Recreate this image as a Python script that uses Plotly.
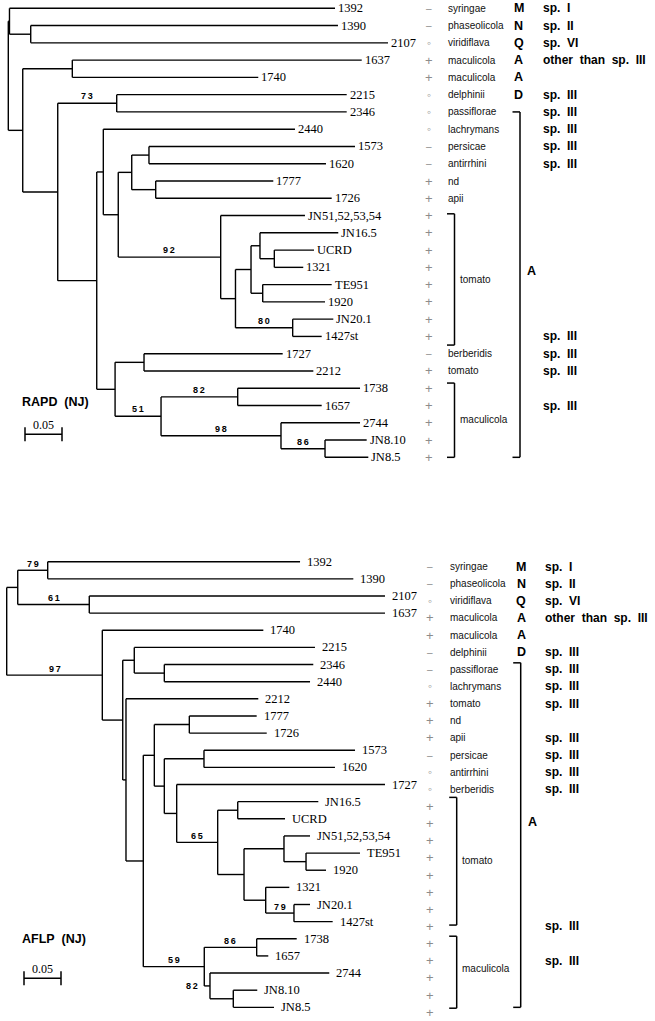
import plotly.graph_objects as go

W, H = 655, 1021
PX_PER_UNIT = 740.0          # 0.05 distance units = 37 px
SCALE_LEN = 0.05

# ---------------- RAPD (NJ) tree ----------------
rapd_leaves = ["1392", "1390", "2107", "1637", "1740", "2215", "2346", "2440",
               "1573", "1620", "1777", "1726", "JN51,52,53,54", "JN16.5", "UCRD",
               "1321", "TE951", "1920", "JN20.1", "1427st", "1727", "2212",
               "1738", "1657", "2744", "JN8.10", "JN8.5"]
rapd_tip_depth = [0.4415, 0.4455, 0.5131, 0.4776, 0.3378, 0.4573, 0.4573, 0.3874,
                  0.4685, 0.4293, 0.3581, 0.4370, 0.4009, 0.4459, 0.4131,
                  0.3986, 0.4370, 0.4280, 0.4392, 0.4235, 0.3708, 0.4122,
                  0.4753, 0.4235, 0.4753, 0.4843, 0.4865]
rapd_node_id = ["root", "nA", "nA2", "nB", "nB1", "nC", "n73", "nD", "nE", "nF",
                "nG", "nG1", "nG2", "nH", "nI", "nJ", "nK", "nK2", "nJ2", "nI2",
                "nL", "nL1", "nM", "nM1", "nN", "nN2"]
rapd_node_depth = [0.0, 0.0016, 0.0303, 0.0195, 0.0865, 0.0668, 0.1465, 0.1195,
                   0.1284, 0.1486, 0.1668, 0.1901, 0.1992, 0.2870, 0.3070, 0.3280,
                   0.3401, 0.3595, 0.3438, 0.3843, 0.1443, 0.1834, 0.2064, 0.3100,
                   0.3685, 0.4280]
rapd_node_children = [["nA", "nB"], ["1392", "nA2"], ["1390", "2107"], ["nB1", "nC"],
                      ["1637", "1740"], ["n73", "nD"], ["2215", "2346"], ["nE", "nL"],
                      ["2440", "nF"], ["nG", "nH"], ["nG1", "nG2"], ["1573", "1620"],
                      ["1777", "1726"], ["JN51,52,53,54", "nI"], ["nJ", "nI2"],
                      ["nK", "nJ2"], ["JN16.5", "nK2"], ["UCRD", "1321"],
                      ["TE951", "1920"], ["JN20.1", "1427st"], ["nL1", "nM"],
                      ["1727", "2212"], ["nM1", "nN"], ["1738", "1657"],
                      ["2744", "nN2"], ["JN8.10", "JN8.5"]]
rapd_node_boot = [None, None, None, None, None, None, 73, None, None, None,
                  None, None, None, 92, None, None, None, None, None, 80,
                  None, None, 51, 82, 98, 86]
rapd_reaction = ["-", "-", "o", "+", "+", "o", "o", "o", "-", "-", "+", "+",
                 "+", "+", "+", "+", "+", "+", "+", "+", "-", "+",
                 "+", "+", "+", "+", "+"]
rapd_pathovar = ["syringae", "phaseolicola", "viridiflava", "maculicola", "maculicola",
                 "delphinii", "passiflorae", "lachrymans", "persicae", "antirrhini",
                 "nd", "apii", "", "", "", "", "", "", "", "", "berberidis", "tomato",
                 "", "", "", "", ""]
rapd_species = ["sp. I", "sp. II", "sp. VI", "other than sp. III", "", "sp. III",
                "sp. III", "sp. III", "sp. III", "sp. III", "", "", "", "", "", "",
                "", "", "", "sp. III", "sp. III", "sp. III", "", "sp. III", "", "", ""]
rapd_brackets = [("tomato", 11.9, 19.5, 15.7), ("maculicola", 21.7, 26.0, 23.8)]
rapd_big_bracket = ("A", 6.0, 26.0, 15.2)

# ---------------- AFLP (NJ) tree ----------------
aflp_leaves = ["1392", "1390", "2107", "1637", "1740", "2215", "2346", "2440",
               "2212", "1777", "1726", "1573", "1620", "1727", "JN16.5", "UCRD",
               "JN51,52,53,54", "TE951", "1920", "1321", "JN20.1", "1427st",
               "1738", "1657", "2744", "JN8.10", "JN8.5"]
aflp_tip_depth = [0.3964, 0.4684, 0.5112, 0.5112, 0.3468, 0.4166, 0.4143, 0.4099,
                  0.3400, 0.3378, 0.3514, 0.4707, 0.4436, 0.5112, 0.4211, 0.3761,
                  0.4099, 0.4774, 0.4315, 0.3819, 0.4099, 0.4405,
                  0.3919, 0.3535, 0.4359, 0.3386, 0.3612]
aflp_node_id = ["root", "nP", "nP1", "nP2", "nQ", "nR", "nS", "nS2", "nT", "nU",
                "nV", "nV1", "nW", "nW1", "nX", "nY", "nY1", "nZ", "nZ1", "nZ1b",
                "nZ2", "nZ2b", "nAA", "nAA1", "nBB", "nBB1"]
aflp_node_depth = [0.0, 0.0149, 0.0554, 0.1116, 0.1292, 0.1568, 0.1724, 0.2130,
                   0.1612, 0.1846, 0.1995, 0.2468, 0.2130, 0.2666, 0.2297, 0.2851,
                   0.3122, 0.3207, 0.3747, 0.4045, 0.3500, 0.3882, 0.2670, 0.3378,
                   0.2747, 0.3062]
aflp_node_children = [["nP", "nQ"], ["nP1", "nP2"], ["1392", "1390"], ["2107", "1637"],
                      ["1740", "nR"], ["nS", "nT"], ["2215", "nS2"], ["2346", "2440"],
                      ["2212", "nU"], ["nV", "nAA"], ["nV1", "nW"], ["1777", "1726"],
                      ["nW1", "nX"], ["1573", "1620"], ["1727", "nY"], ["nY1", "nZ"],
                      ["JN16.5", "UCRD"], ["nZ1", "nZ2"], ["JN51,52,53,54", "nZ1b"],
                      ["TE951", "1920"], ["1321", "nZ2b"], ["JN20.1", "1427st"],
                      ["nAA1", "nBB"], ["1738", "1657"], ["2744", "nBB1"],
                      ["JN8.10", "JN8.5"]]
aflp_node_boot = [None, None, 79, 61, 97, None, None, None, None, None,
                  None, None, None, None, None, 65, None, None, None, None,
                  None, 79, 59, 86, 82, None]
aflp_reaction = ["-", "-", "o", "+", "+", "-", "-", "o", "+", "+", "+", "-", "o", "o",
                 "+", "+", "+", "+", "+", "+", "+", "+", "+", "+", "+", "+", "+"]
aflp_pathovar = ["syringae", "phaseolicola", "viridiflava", "maculicola", "maculicola",
                 "delphinii", "passiflorae", "lachrymans", "tomato", "nd", "apii",
                 "persicae", "antirrhini", "berberidis", "", "", "", "", "", "", "",
                 "", "", "", "", "", ""]
aflp_species = ["sp. I", "sp. II", "sp. VI", "other than sp. III", "", "sp. III",
                "sp. III", "sp. III", "sp. III", "", "sp. III", "sp. III", "sp. III",
                "sp. III", "", "", "", "", "", "", "", "sp. III", "", "sp. III", "", "", ""]
aflp_brackets = [("tomato", 13.75, 21.2, 17.45), ("maculicola", 21.85, 26.05, 23.75)]
aflp_big_bracket = ("A", 5.9, 26.0, 15.2)

group_letters = ["M", "N", "Q", "A", "A", "D"]

# ---------------- helpers ----------------
SERIF = "Liberation Serif, Times New Roman, serif"
SANS = "Liberation Sans, Arial, sans-serif"
NB = "\u00a0"


def spaced(s):
    return s.replace(" ", NB + " ")


def px_x(px):
    return px / W


def px_y(py):
    return 1 - py / H


fig = go.Figure()
annotations = []
shapes = []


def draw_tree(cfg):
    leaves, tip_depth = cfg["leaves"], cfg["tip_depth"]
    node_ids, node_depth = cfg["node_id"], cfg["node_depth"]
    kids = dict(zip(node_ids, cfg["children"]))
    boot = dict(zip(node_ids, cfg["boot"]))
    row = {n: i for i, n in enumerate(leaves)}
    depth = dict(zip(leaves, tip_depth))
    depth.update(dict(zip(node_ids, node_depth)))
    parent = {c: n for n in node_ids for c in kids[n]}
    ypos = {}

    def gety(n):
        if n in row:
            return row[n]
        if n not in ypos:
            ys = [gety(c) for c in kids[n]]
            ypos[n] = (ys[0] + ys[-1]) / 2
        return ypos[n]

    xs, ys = [], []
    for n in node_ids:
        cy = [gety(c) for c in kids[n]]
        xs += [depth[n], depth[n], None]
        ys += [cy[0], cy[-1], None]
        for c in kids[n]:
            xs += [depth[n], depth[c], None]
            ys += [gety(c), gety(c), None]
    fig.add_trace(go.Scatter(x=xs, y=ys, mode="lines", xaxis=cfg["xa"], yaxis=cfg["ya"],
                             line=dict(color="black", width=1.4), hoverinfo="skip",
                             showlegend=False))
    xr, yr = cfg["xa"], cfg["ya"]
    # tip labels
    for n, d in zip(leaves, tip_depth):
        annotations.append(dict(x=d, y=row[n], xref=xr, yref=yr, text=n, showarrow=False,
                                xanchor="left", yanchor="middle", xshift=cfg["tip_gap"],
                                font=dict(family=SERIF, size=12.5, color="black")))
    # bootstrap values
    for n in node_ids:
        b = boot[n]
        if b is None:
            continue
        p = parent[n]
        s = str(b)
        txt = "<b>" + s[0] + "\u2009" + s[1:] + "</b>"
        if (depth[n] - depth[p]) * PX_PER_UNIT < 12:
            annotations.append(dict(x=depth[p], y=gety(n), xref=xr, yref=yr, text=txt,
                                    showarrow=False, xanchor="right", yanchor="middle",
                                    xshift=-4, font=dict(family=SANS, size=9, color="black")))
        else:
            annotations.append(dict(x=(depth[n] + depth[p]) / 2, y=gety(n), xref=xr, yref=yr,
                                    text=txt, showarrow=False, xanchor="center",
                                    yanchor="middle", yshift=cfg["boot_shift"],
                                    font=dict(family=SANS, size=9, color="black")))
    # right-hand columns
    off = cfg["col_off"]
    sym_map = {"+": "+", "-": "\u2013", "o": "\u25e6"}
    sym_size = {"+": 13, "-": 10, "o": 12}
    for i in range(len(leaves)):
        yy = i + off
        r = cfg["reaction"][i]
        annotations.append(dict(x=px_x(cfg["sym_x"]), y=yy, xref="paper", yref=yr,
                                text=sym_map[r], showarrow=False, xanchor="center",
                                yanchor="middle",
                                font=dict(family=SANS, size=sym_size[r], color="#8c8c8c")))
        if cfg["pathovar"][i]:
            annotations.append(dict(x=px_x(cfg["pv_x"]), y=yy, xref="paper", yref=yr,
                                    text=cfg["pathovar"][i], showarrow=False, xanchor="left",
                                    yanchor="middle",
                                    font=dict(family=SANS, size=10, color="#111")))
        if i < len(group_letters):
            annotations.append(dict(x=px_x(cfg["let_x"]), y=yy, xref="paper", yref=yr,
                                    text="<b>" + group_letters[i] + "</b>", showarrow=False,
                                    xanchor="center", yanchor="middle",
                                    font=dict(family=SANS, size=12.5, color="black")))
        if cfg["species"][i]:
            annotations.append(dict(x=px_x(cfg["sp_x"]), y=yy, xref="paper", yref=yr,
                                    text="<b>" + spaced(cfg["species"][i]) + "</b>",
                                    showarrow=False, xanchor="left", yanchor="middle",
                                    font=dict(family=SANS, size=12, color="black")))
    # brackets
    for lab, y0, y1, ly in cfg["brackets"]:
        bx = px_x(cfg["br_x"])
        tx = px_x(cfg["br_x"] - 7.5)
        for seg in [(tx, y0, bx, y0), (bx, y0, bx, y1), (tx, y1, bx, y1)]:
            shapes.append(dict(type="line", xref="paper", yref=yr, x0=seg[0], y0=seg[1],
                               x1=seg[2], y1=seg[3], line=dict(color="black", width=1.5)))
        annotations.append(dict(x=px_x(cfg["br_x"] + 3), y=ly, xref="paper", yref=yr,
                                text=lab, showarrow=False, xanchor="left", yanchor="middle",
                                font=dict(family=SANS, size=10, color="#111")))
    lab, y0, y1, ly = cfg["big"]
    bx = px_x(cfg["big_x"])
    tx = px_x(cfg["big_x"] - 7.5)
    for seg in [(tx, y0, bx, y0), (bx, y0, bx, y1), (tx, y1, bx, y1)]:
        shapes.append(dict(type="line", xref="paper", yref=yr, x0=seg[0], y0=seg[1],
                           x1=seg[2], y1=seg[3], line=dict(color="black", width=1.5)))
    annotations.append(dict(x=px_x(cfg["big_x"] + 5), y=ly, xref="paper", yref=yr,
                            text="<b>" + lab + "</b>", showarrow=False, xanchor="left",
                            yanchor="middle", font=dict(family=SANS, size=12.5, color="black")))
    # title + scale bar
    annotations.append(dict(x=px_x(20), y=px_y(cfg["title_y"]), xref="paper", yref="paper",
                            text="<b>" + spaced(cfg["title"]) + "</b>", showarrow=False,
                            xanchor="left", yanchor="middle",
                            font=dict(family=SANS, size=12.5, color="black")))
    sx0 = (cfg["scale_px"] - cfg["root_px"]) / PX_PER_UNIT
    sx1 = sx0 + SCALE_LEN
    by = cfg["bar_y"]
    shapes.append(dict(type="line", xref=xr, yref="paper", x0=sx0, x1=sx1, y0=px_y(by),
                       y1=px_y(by), line=dict(color="black", width=1.5)))
    for sx in (sx0, sx1):
        shapes.append(dict(type="line", xref=xr, yref="paper", x0=sx, x1=sx,
                           y0=px_y(by - 7), y1=px_y(by + 7),
                           line=dict(color="black", width=1.5)))
    annotations.append(dict(x=(sx0 + sx1) / 2, y=px_y(by - 9), xref=xr, yref="paper",
                            text=str(SCALE_LEN), showarrow=False, xanchor="center",
                            yanchor="middle", font=dict(family=SERIF, size=12, color="black")))


rapd_cfg = dict(leaves=rapd_leaves, tip_depth=rapd_tip_depth, node_id=rapd_node_id,
                node_depth=rapd_node_depth, children=rapd_node_children, boot=rapd_node_boot,
                reaction=rapd_reaction, pathovar=rapd_pathovar, species=rapd_species,
                brackets=rapd_brackets, big=rapd_big_bracket, xa="x", ya="y",
                tip_gap=1, boot_shift=7, col_off=0.0, sym_x=429.5, pv_x=446, let_x=518.5,
                sp_x=541, br_x=454.5, big_x=520, title="RAPD (NJ)", title_y=402,
                scale_px=25, root_px=8.3, bar_y=434.3)
aflp_cfg = dict(leaves=aflp_leaves, tip_depth=aflp_tip_depth, node_id=aflp_node_id,
                node_depth=aflp_node_depth, children=aflp_node_children, boot=aflp_node_boot,
                reaction=aflp_reaction, pathovar=aflp_pathovar, species=aflp_species,
                brackets=aflp_brackets, big=aflp_big_bracket, xa="x2", ya="y2",
                tip_gap=5, boot_shift=6.5, col_off=0.28, sym_x=430, pv_x=447.5, let_x=521,
                sp_x=543, br_x=456.7, big_x=520.7, title="AFLP (NJ)", title_y=939,
                scale_px=24, root_px=6.7, bar_y=978.3)

draw_tree(rapd_cfg)
draw_tree(aflp_cfg)

SPLIT = 500.0
R0, RSTEP = 8.3, 17.27      # RAPD row 0 pixel / row spacing
A0, ASTEP = 561.7, 17.14    # AFLP row 0 pixel / row spacing

fig.update_layout(
    width=W, height=H, margin=dict(l=0, r=0, t=0, b=0),
    paper_bgcolor="white", plot_bgcolor="white", showlegend=False,
    xaxis=dict(domain=[0, 1], anchor="y", visible=False,
               range=[-8.3 / PX_PER_UNIT, (W - 8.3) / PX_PER_UNIT]),
    yaxis=dict(domain=[1 - SPLIT / H, 1], anchor="x", visible=False,
               range=[(SPLIT - R0) / RSTEP, (0 - R0) / RSTEP]),
    xaxis2=dict(domain=[0, 1], anchor="y2", visible=False,
                range=[-6.7 / PX_PER_UNIT, (W - 6.7) / PX_PER_UNIT]),
    yaxis2=dict(domain=[0, 1 - SPLIT / H], anchor="x2", visible=False,
                range=[(H - A0) / ASTEP, (SPLIT - A0) / ASTEP]),
    annotations=annotations, shapes=shapes,
)

fig.write_html("out.html", config={"displayModeBar": False},
               post_script="document.body.style.margin='0';document.body.style.padding='0';")
